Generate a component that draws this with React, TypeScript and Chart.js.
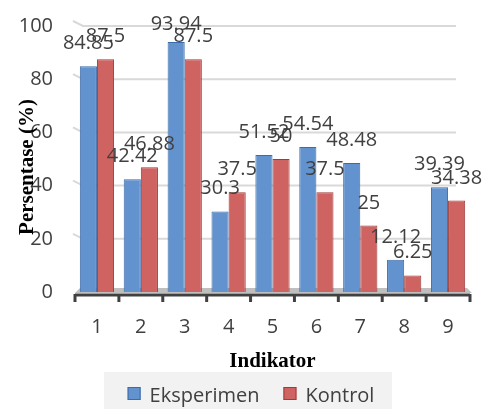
import React, { useEffect, useRef } from "react";
import { Chart, registerables } from "chart.js";

Chart.register(...registerables);

const categories = ["1", "2", "3", "4", "5", "6", "7", "8", "9"];
const eksperimen = [84.85, 42.42, 93.94, 30.3, 51.52, 54.54, 48.48, 12.12, 39.39];
const kontrol = [87.5, 46.88, 87.5, 37.5, 50, 37.5, 25, 6.25, 34.38];
const yTickValues = [0, 20, 40, 60, 80, 100];
const seriesNames = ["Eksperimen", "Kontrol"];
const xTitle = "Indikator";
const yTitle = "Persentase (%)";

const BLUE = "#6393CE";
const BLUE_BORDER = "#3D6BA8";
const RED = "#CF6361";
const RED_BORDER = "#9E3B39";
const TEXT = "#404040";
const SANS = '"Open Sans", sans-serif';
const SERIF = '"Liberation Serif", serif';

const decor = {
  id: "decor",
  beforeDatasetsDraw(chart: any) {
    const { ctx, chartArea, scales } = chart;
    const y = scales.y;
    ctx.save();
    ctx.strokeStyle = "#D9D9D9";
    ctx.lineWidth = 2;
    y.ticks.forEach((t: any) => {
      if (t.value === 0) return;
      const py = y.getPixelForValue(t.value);
      ctx.beginPath();
      ctx.moveTo(chartArea.left - 2, py - 5);
      ctx.lineTo(chartArea.left + 8, py);
      ctx.lineTo(chartArea.right - 14, py);
      ctx.stroke();
    });
    const b = chartArea.bottom;
    ctx.fillStyle = "#BFBFBF";
    ctx.beginPath();
    ctx.moveTo(chartArea.left + 5, b - 4);
    ctx.lineTo(chartArea.right - 3, b - 4);
    ctx.lineTo(chartArea.right + 2, b + 1);
    ctx.lineTo(chartArea.left, b + 1);
    ctx.closePath();
    ctx.fill();
    ctx.restore();
  },
  afterDatasetsDraw(chart: any) {
    const { ctx, chartArea } = chart;
    const b = chartArea.bottom;
    ctx.save();
    ctx.strokeStyle = "#404040";
    ctx.lineWidth = 3;
    ctx.beginPath();
    ctx.moveTo(chartArea.left, b + 3);
    ctx.lineTo(chartArea.right, b + 3);
    ctx.stroke();
    const n = categories.length;
    for (let i = 0; i <= n; i++) {
      const px = chartArea.left + (i * (chartArea.right - chartArea.left)) / n;
      ctx.beginPath();
      ctx.moveTo(px, b + 2);
      ctx.lineTo(px, b + 10);
      ctx.stroke();
    }
    ctx.font = `20px ${SANS}`;
    ctx.fillStyle = TEXT;
    ctx.textAlign = "center";
    ctx.textBaseline = "alphabetic";
    chart.data.datasets.forEach((ds: any, di: number) => {
      const meta = chart.getDatasetMeta(di);
      meta.data.forEach((el: any, i: number) => {
        const ly = Math.max(el.y - 17, 30);
        ctx.fillText(String(ds.data[i]), el.x, ly);
      });
    });
    ctx.restore();
  },
  afterDraw(chart: any) {
    const { ctx, chartArea } = chart;
    ctx.save();
    ctx.fillStyle = "#000";
    ctx.font = `bold 21px ${SERIF}`;
    ctx.textAlign = "center";
    ctx.textBaseline = "alphabetic";
    ctx.save();
    ctx.translate(33, 167);
    ctx.rotate(-Math.PI / 2);
    ctx.fillText(yTitle, 0, 0);
    ctx.restore();
    ctx.fillText(xTitle, (chartArea.left + chartArea.right) / 2, 367);
    ctx.fillStyle = "#F2F2F2";
    ctx.fillRect(104, 372, 288, 37);
    ctx.font = `20px ${SANS}`;
    ctx.textAlign = "left";
    const sq = 13;
    const gapIn = 9;
    const gapOut = 24;
    const colors = [[BLUE, BLUE_BORDER], [RED, RED_BORDER]];
    const widths = seriesNames.map((s) => ctx.measureText(s).width);
    const total = widths.reduce((a, w) => a + sq + gapIn + w, 0) + gapOut;
    let x = 251 - total / 2;
    seriesNames.forEach((s, i) => {
      ctx.fillStyle = colors[i][0];
      ctx.fillRect(x, 387, sq, sq);
      ctx.strokeStyle = colors[i][1];
      ctx.lineWidth = 1;
      ctx.strokeRect(x + 0.5, 387.5, sq - 1, sq - 1);
      x += sq + gapIn;
      ctx.fillStyle = TEXT;
      ctx.fillText(s, x, 402);
      x += widths[i] + gapOut;
    });
    ctx.restore();
  },
};

export default function App() {
  const ref = useRef<HTMLCanvasElement | null>(null);
  useEffect(() => {
    if (!ref.current) return;
    const chart = new Chart(ref.current, {
      type: "bar",
      data: {
        labels: categories,
        datasets: [
          {
            label: seriesNames[0],
            data: eksperimen,
            backgroundColor: BLUE,
            borderColor: BLUE_BORDER,
            borderWidth: 1,
            barPercentage: 1,
            categoryPercentage: 0.78,
          },
          {
            label: seriesNames[1],
            data: kontrol,
            backgroundColor: RED,
            borderColor: RED_BORDER,
            borderWidth: 1,
            barPercentage: 1,
            categoryPercentage: 0.78,
          },
        ],
      },
      options: {
        responsive: false,
        animation: false,
        devicePixelRatio: 1,
        layout: { padding: { top: 22, right: 12, left: 0, bottom: 0 } },
        plugins: {
          legend: { display: false },
          tooltip: { enabled: false },
          title: { display: false },
        },
        scales: {
          x: {
            grid: { display: false },
            border: { display: false },
            ticks: { font: { family: SANS, size: 20 }, color: TEXT, padding: 15 },
            afterFit(s: any) {
              s.height = 117;
            },
          },
          y: {
            min: 0,
            max: 100,
            afterBuildTicks(s: any) {
              s.ticks = yTickValues.map((v) => ({ value: v }));
            },
            grid: { display: false },
            border: { display: false },
            ticks: { font: { family: SANS, size: 20 }, color: TEXT, padding: 14 },
            afterFit(s: any) {
              s.width = 75;
            },
          },
        },
      },
      plugins: [decor],
    } as any);
    return () => chart.destroy();
  }, []);
  return (
    <div style={{ position: "absolute", left: 0, top: 0, width: 482, height: 409, background: "#fff" }}>
      <canvas ref={ref} width={482} height={409} style={{ display: "block" }} />
    </div>
  );
}
